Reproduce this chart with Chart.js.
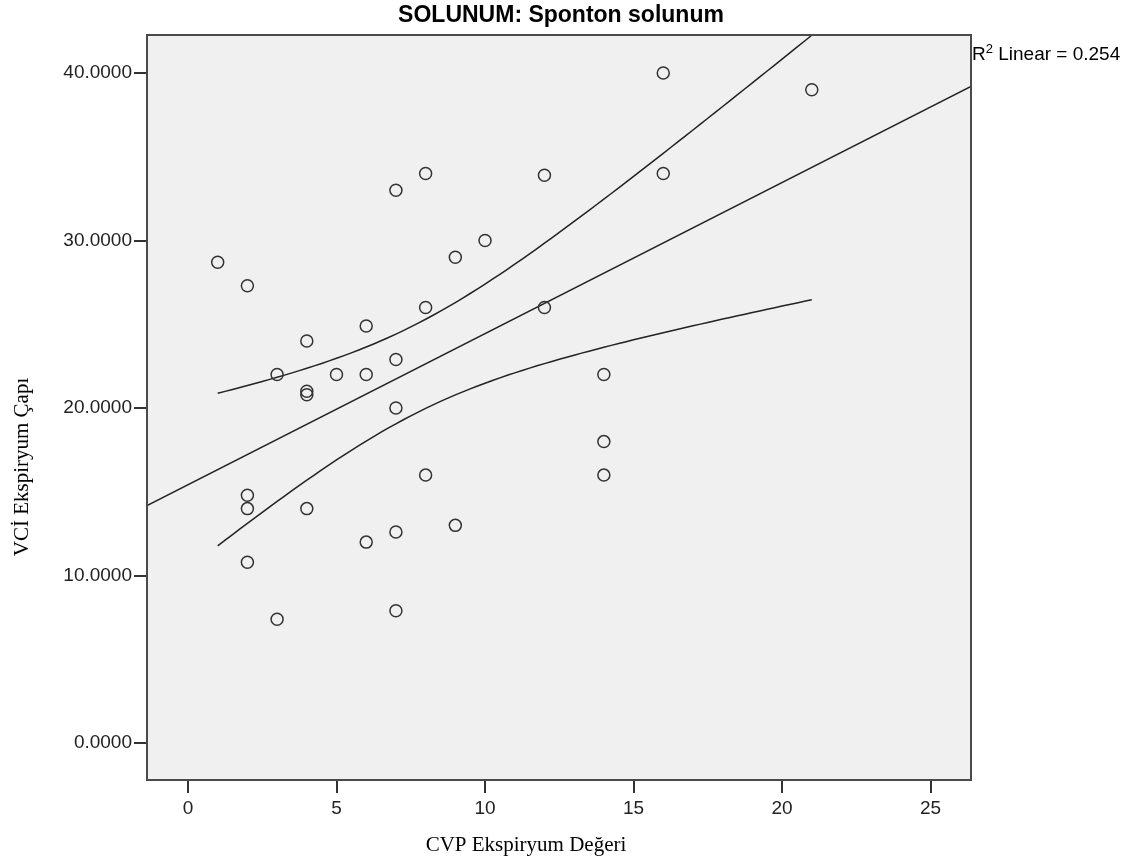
<!DOCTYPE html>
<html>
<head>
<meta charset="utf-8">
<script src="https://cdn.jsdelivr.net/npm/chart.js@4/dist/chart.umd.min.js"></script>
<style>
  body { margin: 0; background: #fff; }
  #wrap { width: 1138px; height: 863px; }
</style>
</head>
<body>
<div id="wrap"><canvas id="chart"></canvas></div>
<script>
// CVP Ekspiryum Değeri (x) / VCİ Ekspiryum Çapı (y)
const cvp = [1, 2, 2, 2, 2, 3, 3, 4, 4, 4, 4, 5, 6, 6, 6, 7, 7, 7, 7, 7, 8, 8, 8, 9, 9, 10, 12, 12, 14, 14, 14, 16, 16, 21];
const vci = [28.7, 27.3, 14.8, 14.0, 10.8, 22.0, 7.4, 24.0, 21.0, 20.8, 14.0, 22.0, 24.9, 22.0, 12.0, 33.0, 22.9, 20.0, 12.6, 7.9, 34.0, 26.0, 16.0, 29.0, 13.0, 30.0, 33.9, 26.0, 22.0, 18.0, 16.0, 40.0, 34.0, 39.0];
const xTicks = [0, 5, 10, 15, 20, 25];
const yTicks = [0, 10, 20, 30, 40];
const xRange = [-1.38, 26.36];
const yRange = [-2.2, 42.27];
const r2Label = "0.254";

// linear fit + 95% mean confidence band, from the points
const n = cvp.length;
const mx = cvp.reduce((a, b) => a + b, 0) / n;
const my = vci.reduce((a, b) => a + b, 0) / n;
let sxx = 0, sxy = 0;
for (let i = 0; i < n; i++) {
    sxx += (cvp[i] - mx) ** 2;
    sxy += (cvp[i] - mx) * (vci[i] - my);
}
const slope = sxy / sxx;
const icpt = my - slope * mx;
let sse = 0;
for (let i = 0; i < n; i++) sse += (vci[i] - icpt - slope * cvp[i]) ** 2;
const se = Math.sqrt(sse / (n - 2));
const tCrit = 2.037;

const fitLine = xRange.map(x => ({ x: x, y: icpt + slope * x }));
const xLo = Math.min(...cvp), xHi = Math.max(...cvp);
const upper = [], lower = [];
for (let k = 0; k <= 80; k++) {
    const x = xLo + (xHi - xLo) * k / 80;
    const h = tCrit * se * Math.sqrt(1 / n + (x - mx) ** 2 / sxx);
    upper.push({ x: x, y: icpt + slope * x + h });
    lower.push({ x: x, y: icpt + slope * x - h });
}

const sans = "'Liberation Sans', Arial, sans-serif";
const serif = "'Liberation Serif', 'Times New Roman', serif";

const decor = {
    id: "decor",
    beforeDraw(chart) {
        const { ctx, chartArea: a } = chart;
        ctx.save();
        ctx.fillStyle = "#f0f0f0";
        ctx.fillRect(a.left, a.top, a.right - a.left, a.bottom - a.top);
        ctx.restore();
    },
    afterDraw(chart) {
        const { ctx, chartArea: a } = chart;
        ctx.save();
        ctx.strokeStyle = "#4a4a4a";
        ctx.lineWidth = 2;
        ctx.strokeRect(a.left, a.top, a.right - a.left, a.bottom - a.top);

        ctx.fillStyle = "#000";
        ctx.font = "bold 23px " + sans;
        ctx.textAlign = "center";
        ctx.textBaseline = "alphabetic";
        ctx.fillText("SOLUNUM: Sponton solunum", 561, 22);

        // R² label
        ctx.textAlign = "left";
        ctx.font = "19px " + sans;
        let x = a.right + 1;
        ctx.fillText("R", x, 60);
        x += ctx.measureText("R").width;
        ctx.font = "13px " + sans;
        ctx.fillText("2", x, 53);
        x += ctx.measureText("2").width;
        ctx.font = "19px " + sans;
        ctx.fillText(" Linear = " + r2Label, x, 60);

        ctx.font = "21px " + serif;
        ctx.textAlign = "center";
        ctx.fillText("CVP Ekspiryum Değeri", 526, 851);

        ctx.translate(28, 467);
        ctx.rotate(-Math.PI / 2);
        ctx.fillText("VCİ Ekspiryum Çapı", 0, 0);
        ctx.restore();
    }
};

new Chart(document.getElementById("chart"), {
    type: "scatter",
    data: {
        datasets: [
            {
                data: cvp.map((x, i) => ({ x: x, y: vci[i] })),
                pointRadius: 6,
                pointHoverRadius: 6,
                pointBorderWidth: 1.5,
                borderColor: "#333",
                backgroundColor: "rgba(0,0,0,0)"
            },
            { data: fitLine, showLine: true, pointRadius: 0, borderColor: "#222", borderWidth: 1.5 },
            { data: upper, showLine: true, pointRadius: 0, borderColor: "#222", borderWidth: 1.5 },
            { data: lower, showLine: true, pointRadius: 0, borderColor: "#222", borderWidth: 1.5 }
        ]
    },
    options: {
        responsive: true,
        maintainAspectRatio: false,
        animation: false,
        events: [],
        layout: { padding: { left: 0, top: 35, right: 167, bottom: 0 } },
        plugins: { legend: { display: false }, title: { display: false }, tooltip: { enabled: false } },
        scales: {
            x: {
                type: "linear",
                min: xRange[0],
                max: xRange[1],
                afterBuildTicks: s => { s.ticks = xTicks.map(v => ({ value: v })); },
                afterFit: s => { s.height = 83; },
                border: { display: false },
                grid: { drawOnChartArea: false, tickLength: 13, color: "#333", lineWidth: 2 },
                ticks: { color: "#222", font: { family: sans, size: 19 }, padding: 4, maxRotation: 0 }
            },
            y: {
                type: "linear",
                min: yRange[0],
                max: yRange[1],
                afterBuildTicks: s => { s.ticks = yTicks.map(v => ({ value: v })); },
                afterFit: s => { s.width = 147; },
                border: { display: false },
                grid: { drawOnChartArea: false, tickLength: 13, color: "#333", lineWidth: 2 },
                ticks: { color: "#222", font: { family: sans, size: 19 }, padding: 2, callback: v => v.toFixed(4) }
            }
        }
    },
    plugins: [decor]
});
</script>
</body>
</html>
